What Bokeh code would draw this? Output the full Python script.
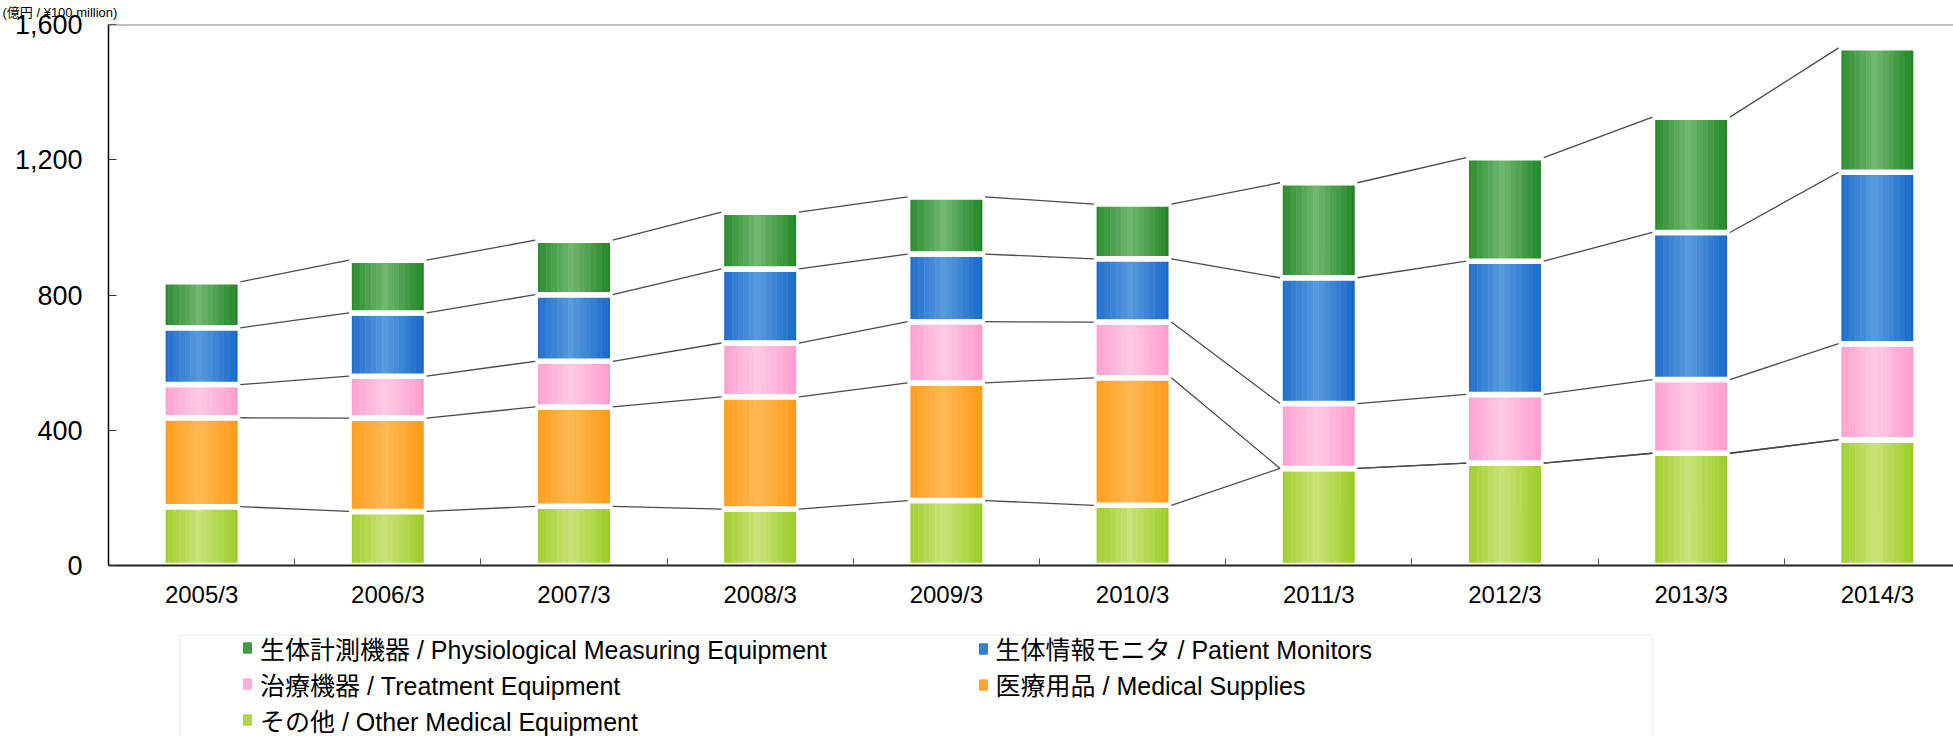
import numpy as np
from bokeh.plotting import figure
from bokeh.layouts import column
from bokeh.models import (FixedTicker, NumeralTickFormatter, Legend, LegendItem,
                          Span, BoxAnnotation, ColumnDataSource)
from bokeh.embed import file_html
from bokeh.resources import INLINE

# ---------------- data (億円 / ¥100 million) ----------------
years = ["2005/3", "2006/3", "2007/3", "2008/3", "2009/3",
         "2010/3", "2011/3", "2012/3", "2013/3", "2014/3"]
other = [174, 160, 175, 167, 192, 178, 287, 303, 332, 372]
medical_supplies = [263, 276, 294, 332, 348, 377, 0, 0, 0, 0]
treatment = [98, 124, 135, 159, 181, 165, 192, 203, 218, 284]
patient_monitors = [168, 187, 197, 219, 200, 187, 372, 394, 435, 507]
physiological = [136, 156, 161, 168, 169, 162, 281, 306, 341, 368]

label_other = "その他 / Other Medical Equipment"
label_medical = "医療用品 / Medical Supplies"
label_treatment = "治療機器 / Treatment Equipment"
label_monitors = "生体情報モニタ / Patient Monitors"
label_phys = "生体計測機器 / Physiological Measuring Equipment"
axis_title = "(億円 / ¥100 million)"

# ---------------- style ----------------
FONT = "Liberation Sans, Noto Sans CJK JP"
styles = {
    "other": ((0x99, 0xCB, 0x1F), (0xC9, 0xE2, 0x78)),
    "medical": ((0xFF, 0x98, 0x14), (0xFF, 0xB8, 0x52)),
    "treatment": ((0xFF, 0x99, 0xCC), (0xFF, 0xCA, 0xE5)),
    "monitors": ((0x15, 0x65, 0xC9), (0x57, 0x9A, 0xDD)),
    "phys": ((0x1C, 0x82, 0x20), (0x70, 0xB7, 0x70)),
}
BAR_W = 0.416
N_STRIP = 14


def grad_color(edge, light, t):
    f = max(0.0, 1.0 - abs(t - 0.47) / 0.53)
    c = [int(round(e + (l - e) * f)) for e, l in zip(edge, light)]
    return "#%02x%02x%02x" % tuple(c)


def mix(edge, light, f):
    c = [int(round(e + (l - e) * f)) for e, l in zip(edge, light)]
    return "#%02x%02x%02x" % tuple(c)


p = figure(width=1953, height=620, x_range=(-0.5, 9.409), y_range=(0, 1600),
           output_backend="svg", toolbar_location=None,
           min_border_left=108, min_border_right=0, min_border_top=24,
           min_border_bottom=55)
p.outline_line_color = None
p.xgrid.visible = False
p.ygrid.visible = False

# unit caption, top-left
p.title.text = axis_title
p.title.align = "left"
p.title.vertical_align = "top"
p.title.offset = -106
p.title.standoff = 5
p.title.text_font = FONT
p.title.text_font_size = "13px"
p.title.text_font_style = "normal"
p.title.text_color = "black"

idx = np.arange(len(years), dtype=float)
series = [
    (other, "other"),
    (medical_supplies, "medical"),
    (treatment, "treatment"),
    (patient_monitors, "monitors"),
    (physiological, "phys"),
]

base = np.zeros(len(years))
tops = {}
for vals, key in series:
    vals = np.array(vals, dtype=float)
    top = base + vals
    edge, light = styles[key]
    xs, ws, bs, ts, cs = [], [], [], [], []
    for i in range(len(years)):
        for k in range(N_STRIP):
            t = (k + 0.5) / N_STRIP
            xs.append(idx[i] - BAR_W / 2 + t * BAR_W)
            ws.append(BAR_W / N_STRIP)
            bs.append(base[i])
            ts.append(top[i])
            cs.append(grad_color(edge, light, t))
    src = ColumnDataSource(dict(x=xs, w=ws, b=bs, t=ts, c=cs))
    p.vbar(x="x", width="w", bottom="b", top="t", source=src,
           fill_color="c", line_color="c", line_width=0.6)
    p.vbar(x=idx, width=BAR_W, bottom=base, top=top, fill_alpha=0,
           line_color="white", line_width=5.5)
    tops[key] = top
    base = top

for vals, key in series:
    top = tops[key]
    p.segment(x0=idx[:-1] + BAR_W / 2, y0=top[:-1],
              x1=idx[1:] - BAR_W / 2, y1=top[1:],
              line_color="#4a4a4a", line_width=1.3)

p.add_layout(Span(location=1600, dimension="width", line_color="#858585",
                  line_width=2))

# ---------------- axes ----------------
p.yaxis.ticker = FixedTicker(ticks=[0, 400, 800, 1200, 1600])
p.yaxis.formatter = NumeralTickFormatter(format="0,0")
p.yaxis.major_tick_in = 8
p.yaxis.major_tick_out = 0
p.yaxis.minor_tick_line_color = None
p.yaxis.major_tick_line_color = "#333333"
p.yaxis.axis_line_color = "black"
p.yaxis.axis_line_width = 1.5
p.yaxis.major_label_text_font = FONT
p.yaxis.major_label_text_font_size = "27px"
p.yaxis.major_label_text_color = "black"
p.yaxis.major_label_standoff = 26

p.xaxis.ticker = FixedTicker(ticks=list(range(len(years))),
                             minor_ticks=[i + 0.5 for i in range(len(years) - 1)])
p.xaxis.major_label_overrides = {i: y for i, y in enumerate(years)}
p.xaxis.major_tick_in = 0
p.xaxis.major_tick_out = 0
p.xaxis.minor_tick_in = 7
p.xaxis.minor_tick_out = 0
p.xaxis.minor_tick_line_color = "#555555"
p.xaxis.axis_line_color = "#222222"
p.xaxis.axis_line_width = 2
p.xaxis.major_label_text_font = FONT
p.xaxis.major_label_text_font_size = "24px"
p.xaxis.major_label_text_color = "black"
p.xaxis.major_label_standoff = 15

# ---------------- legend panel (frame aligned with the chart's frame) ----------------
FW, FH = 1545, 102          # frame of the legend panel: x 108..1653, y 634..736
BOX_L = 71                  # legend box starts 71 px right of the frame's left edge
q = figure(width=108 + FW, height=116, x_range=(0, FW), y_range=(0, FH),
           output_backend="svg", toolbar_location=None,
           min_border_left=108, min_border_right=0, min_border_top=14,
           min_border_bottom=0)
q.axis.visible = False
q.xgrid.visible = False
q.ygrid.visible = False
q.outline_line_color = None
q.add_layout(BoxAnnotation(left=BOX_L + 0.5, right=FW - 0.5, top=FH - 0.5,
                           bottom=-20, fill_alpha=0, line_color="#a6a6a6",
                           line_width=1))

# legend-only renderers (a single undefined point: nothing is drawn in the panel)
lr = {}
for key in styles:
    edge, light = styles[key]
    c = mix(edge, light, 0.45)
    src = ColumnDataSource(dict(x=np.array([np.nan]), top=np.array([np.nan])))
    lr[key] = q.vbar(x="x", top="top", width=1, source=src,
                     fill_color=c, line_color=c)

common = dict(border_line_color=None, background_fill_alpha=0, padding=0,
              margin=0, spacing=0, label_standoff=8, glyph_width=10,
              glyph_height=13, label_height=35,
              label_text_font=FONT, label_text_font_size="25px",
              label_text_color="black")
leg1 = Legend(items=[
    LegendItem(label=label_phys, renderers=[lr["phys"]]),
    LegendItem(label=label_treatment, renderers=[lr["treatment"]]),
    LegendItem(label=label_other, renderers=[lr["other"]]),
], location=(134, -1.75), **common)
leg2 = Legend(items=[
    LegendItem(label=label_monitors, renderers=[lr["monitors"]]),
    LegendItem(label=label_medical, renderers=[lr["medical"]]),
], location=(869.6, 33.75), **common)
q.add_layout(leg1)
q.add_layout(leg2)

layout = column(p, q, spacing=0)
open("out.html", "w").write(file_html(layout, INLINE))
